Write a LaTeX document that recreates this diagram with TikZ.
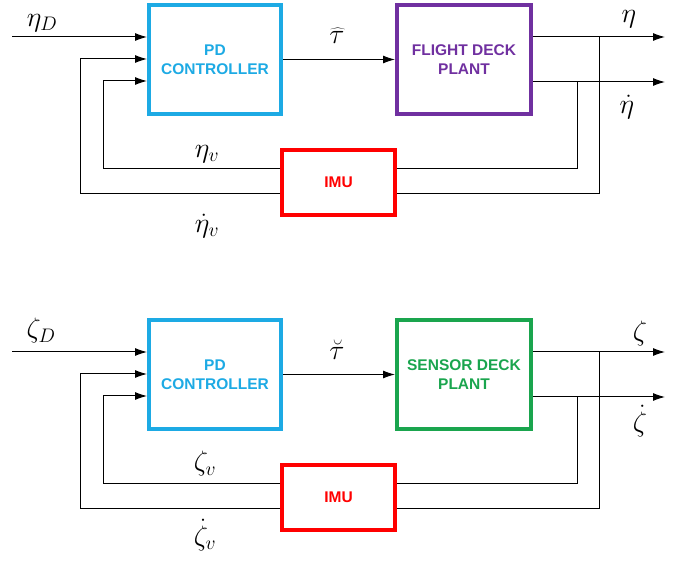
\RequirePackage{fix-cm}
\documentclass[tikz,border=0pt]{standalone}
\usepackage{fontspec}
\newfontfamily\boxfont{Liberation Sans}
\usetikzlibrary{arrows.meta}
\definecolor{ccyan}{HTML}{1DAAE4}
\definecolor{cpurple}{HTML}{7030A0}
\definecolor{cgreen}{HTML}{1AA54E}
\definecolor{cred}{HTML}{FF0000}
\begin{document}
\begin{tikzpicture}[x=1pt,y=-1pt,
  blk/.style={draw, line width=4pt, align=center, font=\boxfont\bfseries\fontsize{15.5}{19}\selectfont},
  ctrl/.style={blk, draw=ccyan, text=ccyan, minimum width=132pt, minimum height=109pt},
  plant/.style={blk, minimum width=134pt, minimum height=109pt},
  imubox/.style={blk, draw=cred, text=cred, minimum width=113pt, minimum height=65pt},
  wire/.style={line width=1pt, black},
  arr/.style={wire, -{Latex[length=12pt,width=8pt]}},
  lbl/.style={inner sep=0pt, font=\fontsize{28}{30}\selectfont}
]
\useasboundingbox (0,0) rectangle (689,561);
% ---------------- top diagram ----------------
\node[ctrl] (pd1) at (215,59.5) {PD\\CONTROLLER};
\node[plant, draw=cpurple, text=cpurple] (fd1) at (464,59.5) {FLIGHT DECK\\PLANT};
\node[imubox] (imu1) at (338.5,182.5) {IMU};
\coordinate (in1) at (12,37);
\coordinate (i2a) at (80,59);
\coordinate (i3a) at (103,81);
\coordinate (o1a) at (665,37);
\coordinate (o2a) at (665,82);
\coordinate (b1a) at (599,37);
\coordinate (b2a) at (577,82);
\coordinate (f1a) at (103,169);
\coordinate (f2a) at (80,194);
\draw[arr] (in1) -- (in1 -| pd1.west);
\draw[arr] (pd1) -- (fd1);
\draw[arr] (o1a -| fd1.east) -- (o1a);
\draw[arr] (o2a -| fd1.east) -- (o2a);
\draw[wire] (b2a) |- (imu1.east |- f1a);
\draw[wire] (b1a) |- (imu1.east |- f2a);
\draw[arr] (imu1.west |- f1a) -- (f1a) -- (i3a) -- (i3a -| pd1.west);
\draw[arr] (imu1.west |- f2a) -- (f2a) -- (i2a) -- (i2a -| pd1.west);
\node[lbl] (l1) at (42,23) {$\eta_D$};
\node[lbl] (l2) at (337,36) {$\widehat{\tau}$};
\node[lbl] (l3) at (629,19) {$\eta$};
\node[lbl] (l4) at (627,107) {$\dot\eta$};
\node[lbl] (l5) at (207,154) {$\eta_v$};
\node[lbl] (l6) at (207,226) {$\dot\eta_v$};
% ---------------- bottom diagram ----------------
\node[ctrl] (pd2) at (215,374.5) {PD\\CONTROLLER};
\node[plant, draw=cgreen, text=cgreen] (sd2) at (464,374.5) {SENSOR DECK\\PLANT};
\node[imubox] (imu2) at (338.5,497.5) {IMU};
\coordinate (in2) at (12,352);
\coordinate (i2b) at (80,374);
\coordinate (i3b) at (103,396);
\coordinate (o1b) at (665,352);
\coordinate (o2b) at (665,397);
\coordinate (b1b) at (599,352);
\coordinate (b2b) at (577,397);
\coordinate (f1b) at (103,484);
\coordinate (f2b) at (80,509);
\draw[arr] (in2) -- (in2 -| pd2.west);
\draw[arr] (pd2) -- (sd2);
\draw[arr] (o1b -| sd2.east) -- (o1b);
\draw[arr] (o2b -| sd2.east) -- (o2b);
\draw[wire] (b2b) |- (imu2.east |- f1b);
\draw[wire] (b1b) |- (imu2.east |- f2b);
\draw[arr] (imu2.west |- f1b) -- (f1b) -- (i3b) -- (i3b -| pd2.west);
\draw[arr] (imu2.west |- f2b) -- (f2b) -- (i2b) -- (i2b -| pd2.west);
\node[lbl] (m1) at (41,331) {$\zeta_D$};
\node[lbl] (m2) at (337,350) {$\breve{\tau}$};
\node[lbl] (m3) at (640,334) {$\zeta$};
\node[lbl] (m4) at (640,421) {$\dot\zeta$};
\node[lbl] (m5) at (205,464) {$\zeta_v$};
\node[lbl] (m6) at (205,535) {$\dot\zeta_v$};
\end{tikzpicture}
\end{document}
